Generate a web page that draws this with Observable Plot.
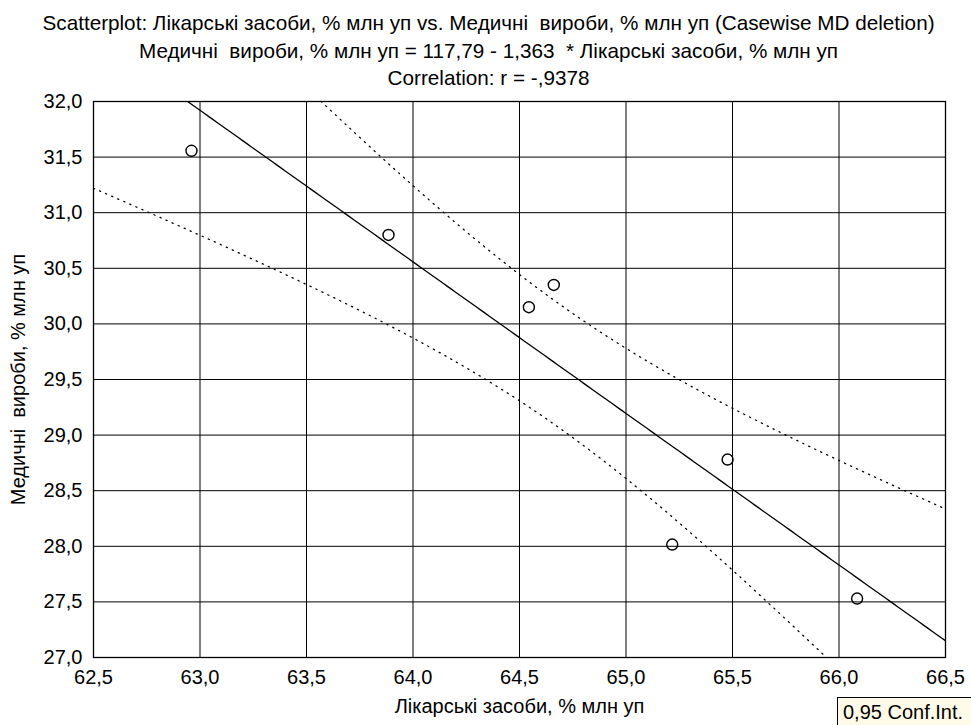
<!DOCTYPE html>
<html>
<head>
<meta charset="utf-8">
<script src="https://cdn.jsdelivr.net/npm/d3@7"></script>
<script src="https://cdn.jsdelivr.net/npm/@observablehq/plot@0.6"></script>
<style>
  html, body { margin: 0; padding: 0; background: #fff; overflow: hidden; }
  #wrap { position: relative; width: 971px; height: 725px; overflow: hidden; font-family: "Liberation Sans", Arial, sans-serif; }
  #legend { position: absolute; left: 837px; top: 697px; width: 150px; height: 32px; box-sizing: border-box;
    border: 1px solid #000; background: #fffbe8; font-size: 20px; line-height: 28px; padding-left: 5px; color: #000; white-space: nowrap; }
</style>
</head>
<body>
<div id="wrap"></div>
<script>
// ---- data ----
const xVals = [62.96, 63.885, 64.544, 64.661, 65.217, 65.477, 66.085]; // Лікарські засоби, % млн уп
const yVals = [31.557, 30.80, 30.15, 30.35, 28.016, 28.78, 27.53];     // Медичні вироби, % млн уп
const regIntercept = 117.79;
const regSlope = -1.363;
const confLevelLabel = "0,95 Conf.Int.";
const tCrit = 2.5706; // t(0.975, df = n - 2 = 5)
const xTicks = [62.5, 63.0, 63.5, 64.0, 64.5, 65.0, 65.5, 66.0, 66.5];
const yTicks = [27.0, 27.5, 28.0, 28.5, 29.0, 29.5, 30.0, 30.5, 31.0, 31.5, 32.0];
const titleLines = [
  "Scatterplot: Лікарські засоби, % млн уп vs. Медичні  вироби, % млн уп (Casewise MD deletion)",
  "Медичні  вироби, % млн уп = 117,79 - 1,363  * Лікарські засоби, % млн уп",
  "Correlation: r = -,9378"
];
const xLabel = "Лікарські засоби, % млн уп";
const yLabel = "Медичні  вироби, % млн уп";

// ---- derived ----
const points = xVals.map((x, i) => ({x, y: yVals[i]}));
const n = points.length;
const mx = d3.mean(xVals);
const sxx = d3.sum(xVals, x => (x - mx) ** 2);
const sse = d3.sum(points, p => (p.y - (regIntercept + regSlope * p.x)) ** 2);
const s = Math.sqrt(sse / (n - 2));
const xDomain = [xTicks[0], xTicks[xTicks.length - 1]];
const yDomain = [yTicks[0], yTicks[yTicks.length - 1]];
const samples = d3.range(0, 201).map(i => xDomain[0] + (xDomain[1] - xDomain[0]) * i / 200);
const band = samples.map(x => {
  const yh = regIntercept + regSlope * x;
  const h = tCrit * s * Math.sqrt(1 / n + (x - mx) ** 2 / sxx);
  return {x, yh, lo: yh - h, hi: yh + h};
});
const fmt = d => d.toFixed(1).replace(".", ",");

const W = 971, H = 725;
const mL = 93, mR = 26, mT = 101, mB = 68;

const chart = Plot.plot({
  width: W, height: H,
  marginLeft: mL, marginRight: mR, marginTop: mT, marginBottom: mB,
  style: {fontFamily: "'Liberation Sans', Arial, sans-serif", fontSize: "20px", color: "#000", background: "#fff"},
  x: {domain: xDomain, ticks: xTicks, tickFormat: fmt},
  y: {domain: yDomain, ticks: yTicks, tickFormat: fmt},
  marks: [
    Plot.gridX(xTicks, {stroke: "#000", strokeOpacity: 1, strokeWidth: 1}),
    Plot.gridY(yTicks, {stroke: "#000", strokeOpacity: 1, strokeWidth: 1}),
    Plot.axisX(xTicks, {tickSize: 0, tickPadding: 12, tickFormat: fmt, label: null, fontSize: 20}),
    Plot.axisY(yTicks, {tickSize: 0, tickPadding: 11, tickFormat: fmt, label: null, fontSize: 20}),
    Plot.line(band, {x: "x", y: "lo", stroke: "#000", strokeWidth: 1.3, strokeDasharray: "1.2,5.4", clip: true}),
    Plot.line(band, {x: "x", y: "hi", stroke: "#000", strokeWidth: 1.3, strokeDasharray: "1.2,5.4", clip: true}),
    Plot.line(band, {x: "x", y: "yh", stroke: "#000", strokeWidth: 1.3, clip: true}),
    Plot.dot(points, {x: "x", y: "y", r: 5.5, stroke: "#000", strokeWidth: 1.4, fill: "none"}),
    Plot.frame({stroke: "#000", strokeWidth: 1.3}),
    Plot.text([titleLines.join("\n")], {frameAnchor: "top", dx: -31, dy: -52.5, lineAnchor: "middle", lineHeight: 1.33, fontSize: 20.7, fill: "#000"}),
    Plot.text([xLabel], {frameAnchor: "bottom", dy: 49, lineAnchor: "middle", fontSize: 20, fill: "#000"}),
    Plot.text([yLabel], {frameAnchor: "left", dx: -75, rotate: -90, textAnchor: "middle", lineAnchor: "middle", fontSize: 20, fill: "#000"})
  ]
});

const wrap = document.getElementById("wrap");
wrap.appendChild(chart);
const leg = document.createElement("div");
leg.id = "legend";
leg.textContent = confLevelLabel;
wrap.appendChild(leg);
</script>
</body>
</html>
